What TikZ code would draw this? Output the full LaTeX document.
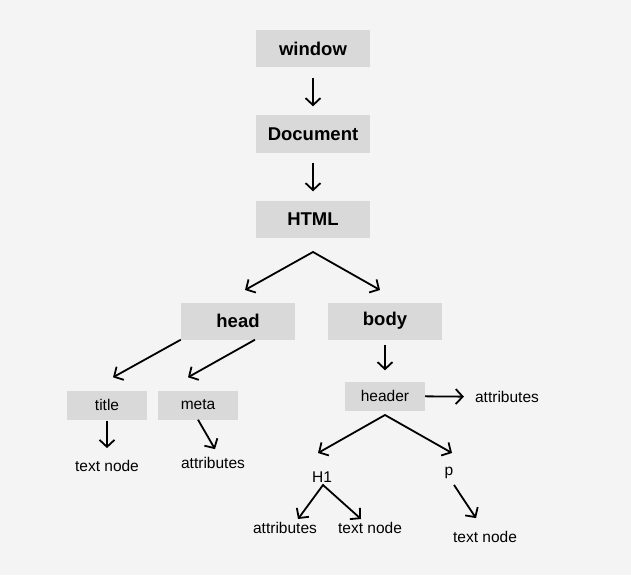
\documentclass[tikz,border=0pt]{standalone}
\usepackage{fontspec}
\setmainfont{Liberation Sans}
\usepackage{tikz}
\usetikzlibrary{arrows.meta, positioning, calc}
\definecolor{paper}{RGB}{244, 244, 244}
\definecolor{boxgray}{RGB}{217, 217, 217}
\tikzset{
  bigbox/.style={rectangle, fill=boxgray, minimum width=114pt, minimum height=37pt, font=\fontsize{18.5}{20}\selectfont\bfseries},
  smallbox/.style={rectangle, fill=boxgray, minimum width=80pt, minimum height=29pt, font=\fontsize{15.5}{17}\selectfont},
  plain/.style={inner sep=2pt, font=\fontsize{15.5}{17}\selectfont},
  link/.style={draw, line width=1.8pt, -{Straight Barb[length=7pt,width=15pt]}},
  fork/.style={draw, line width=1.8pt, {Straight Barb[length=7pt,width=15pt]}-{Straight Barb[length=7pt,width=15pt]}},
}
\begin{document}
\begin{tikzpicture}[x=1pt, y=-1pt]
\useasboundingbox[fill=paper] (0,0) rectangle (631,575);
\node[bigbox] (window) at (313,49) {window};
\node[bigbox] (document) at (313,134) {Document};
\node[bigbox] (html) at (313,219) {HTML};
\node[bigbox] (head) at (238,321) {head};
\node[bigbox] (body) at (385,321) {body};
\node[smallbox] (title) at (107,405) {title};
\node[smallbox] (meta) at (198,405) {meta};
\node[smallbox] (header) at (385,396) {header};
\node[plain] (hdrattr) at (507,397) {attributes};
\node[plain] (titletext) at (107,466) {text node};
\node[plain] (metaattr) at (213,463) {attributes};
\node[plain] (hone) at (322,477) {H1};
\node[plain] (para) at (449,473) {p};
\node[plain] (honeattr) at (285,528) {attributes};
\node[plain] (honetext) at (370,528) {text node};
\node[plain] (paratext) at (485,537) {text node};
\coordinate (htmlfork) at (313,252);
\coordinate (headtip) at (245,290);
\coordinate (bodytip) at (380,290);
\coordinate (hdrfork) at (385,415);
\coordinate (honetip) at (318,453);
\coordinate (paratip) at (452,453);
\coordinate (honefork) at (323,485);
\coordinate (hattrtip) at (298,519);
\coordinate (htexttip) at (361,519);
\draw[link, shorten <=10pt, shorten >=9pt] (window) -- (document);
\draw[link, shorten <=10pt, shorten >=9pt] (document) -- (html);
\draw[fork] (headtip) -- (htmlfork) -- (bodytip);
\draw[link] (head.south west) -- ([xshift=6pt, yshift=13pt]title.north);
\draw[link] ([xshift=17pt]head.south) -- ([xshift=-10pt, yshift=13pt]meta.north);
\draw[link, shorten <=5pt, shorten >=11pt] (body) -- (header);
\draw[link, shorten >=9pt] (header) -- (hdrattr);
\draw[link, shorten <=1pt, shorten >=10pt] (title) -- (titletext);
\draw[link] (meta.south) -- ([xshift=2pt, yshift=6pt]metaattr.north);
\draw[fork] (honetip) -- (hdrfork) -- (paratip);
\draw[fork] (hattrtip) -- (honefork) -- (htexttip);
\draw[link] ([xshift=5pt, yshift=-4pt]para.south) -- ([xshift=-9pt, yshift=11pt]paratext.north);
\end{tikzpicture}
\end{document}
